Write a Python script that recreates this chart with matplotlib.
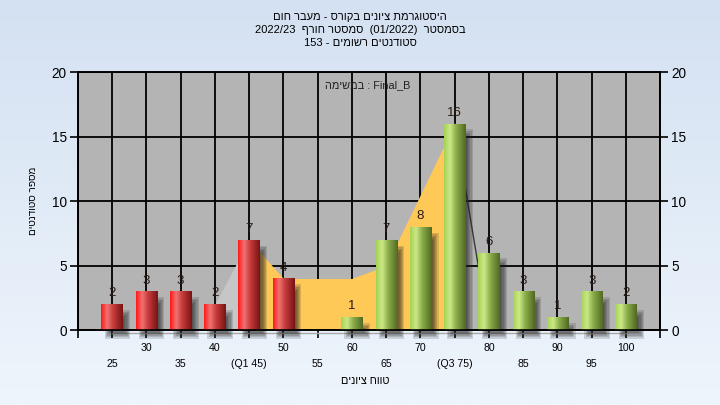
import numpy as np
import matplotlib.pyplot as plt
import matplotlib.transforms as mtransforms
from matplotlib.patches import Rectangle

plt.rcParams['font.family'] = ['Liberation Sans', 'DejaVu Sans']


def rtl(s):
    # matplotlib lays text out left to right, so Hebrew runs are reversed
    return s[::-1]


# data
grades = [25, 30, 35, 40, 45, 50, 55, 60, 65, 70, 75, 80, 85, 90, 95, 100]
counts = [2, 3, 3, 2, 7, 4, 0, 1, 7, 8, 16, 6, 3, 1, 3, 2]
tick_labels = ['25', '30', '35', '40', '(Q1 45)', '50', '55', '60', '65', '70',
               '(Q3 75)', '80', '85', '90', '95', '100']
pass_grade = 55
area_x = [40, 45, 50, 55, 60, 65, 70, 75, 80]
area_y = [2, 7, 4, 4, 4, 5, 10.5, 16, 0]

title1 = rtl('היסטוגרמת ציונים בקורס - מעבר חום')
title2 = '2022/23  ' + rtl('סמסטר חורף') + '  (01/2022)  ' + rtl('בסמסטר')
title3 = '153 - ' + rtl('סטודנטים רשומים')
task_label = rtl('במשימה') + ' : Final_B'
xlabel = rtl('טווח ציונים')
ylabel = rtl('מספר סטודנטים')

fig = plt.figure(figsize=(7.2, 4.05), dpi=100)

# background gradient
bg = fig.add_axes([0, 0, 1, 1], zorder=-10)
grad = np.linspace(0, 1, 256)[:, None]
top_c = np.array([212, 225, 242]) / 255
bot_c = np.array([238, 245, 252]) / 255
bg.imshow(top_c + grad[..., None] * (bot_c - top_c), aspect='auto', extent=[0, 1, 0, 1])
bg.axis('off')

ax = fig.add_axes([0.108, 0.185, 0.809, 0.637])
ax.set_facecolor('#b4b4b4')
ax.set_axisbelow(True)

# area behind the bars
ax.fill_between(area_x[:2], area_y[:2], color='#c6c6c6', lw=0, zorder=1)
ax.fill_between(area_x[1:8], area_y[1:8], color='#ffc957', lw=0, zorder=1)
ax.plot(area_x[7:], area_y[7:], color='#3a3a3a', lw=1, zorder=1)

# floor shadow line under the axis
floor_tr = mtransforms.offset_copy(ax.transData, fig=fig, x=0, y=-3, units='dots')
ax.plot([grades[0], grades[-1]], [0, 0], color='#a8a8a8', lw=1, transform=floor_tr,
        clip_on=False, zorder=2)

width = 3.1
red_cols = np.array([[255, 25, 25], [240, 115, 115], [200, 60, 60], [120, 20, 20]]) / 255
green_cols = np.array([[165, 210, 85], [205, 232, 135], [140, 175, 75], [80, 105, 35]]) / 255
stops = np.array([0, 0.28, 0.55, 1])
u = np.linspace(0, 1, 64)


def ramp(cols):
    return np.stack([np.interp(u, stops, cols[:, k]) for k in range(3)], axis=1)[None, :, :]


bars = ax.bar(grades, counts, width=width, color='none', zorder=4)
for g, c, b in zip(grades, counts, bars):
    if c == 0:
        continue
    x0 = g - width / 2
    # soft shadow
    tr = mtransforms.offset_copy(ax.transData, fig=fig, x=4, y=-4, units='dots')
    for k in range(6):
        gx = (k - 2) * 0.17
        gy = (k - 2) * 0.12
        ax.add_patch(Rectangle((x0 + 0.4 - gx, -gy), width - 0.4 + 2 * gx, c - 0.5 + 2 * gy,
                               transform=tr, color='#202020', alpha=0.16, lw=0, zorder=3,
                               clip_on=False))
    img = ax.imshow(ramp(red_cols if g < pass_grade else green_cols), aspect='auto',
                    extent=[x0, x0 + width, 0, c], zorder=4, interpolation='bilinear')
    img.set_clip_path(b)
    ax.annotate(str(c), (g, c), xytext=(0, 3.5), textcoords='offset points', ha='center',
                va='bottom', fontsize=9.5, color='#2a1a14', zorder=6)

ax.set_xlim(20, 105)
ax.set_ylim(0, 20)
ax.set_yticks([0, 5, 10, 15, 20])
ax.set_xticks([20] + grades[1::2] + [105], [''] + tick_labels[1::2] + [''])
ax.set_xticks(grades[0::2], tick_labels[0::2], minor=True)
ax.grid(which='both', color='black', lw=1.3)
ax.tick_params(which='both', axis='x', length=6, width=1.2, labelsize=7.6, colors='black')
ax.tick_params(which='minor', axis='x', pad=15)
ax.tick_params(which='major', axis='x', pad=3)
ax.tick_params(axis='y', length=6, width=1.2, labelsize=9.8, pad=2)
for s in ax.spines.values():
    s.set_linewidth(1.2)

ax2 = ax.twinx()
ax2.set_ylim(0, 20)
ax2.set_yticks([0, 5, 10, 15, 20])
ax2.tick_params(axis='y', length=6, width=1.2, labelsize=9.8, pad=2)
for s in ax2.spines.values():
    s.set_linewidth(1.2)

ax.text(0.498, 0.95, task_label, transform=ax.transAxes, ha='center', va='center',
        fontsize=7.8, color='#202020', zorder=7)

fig.text(0.5, 0.958, title1, ha='center', va='center', fontsize=8)
fig.text(0.5, 0.926, title2, ha='center', va='center', fontsize=8)
fig.text(0.5, 0.894, title3, ha='center', va='center', fontsize=8)
fig.text(0.507, 0.059, xlabel, ha='center', va='center', fontsize=7.8)
fig.text(0.046, 0.505, ylabel, ha='center', va='center', fontsize=7.2, rotation=90)

fig.savefig('out.png', dpi=100)
